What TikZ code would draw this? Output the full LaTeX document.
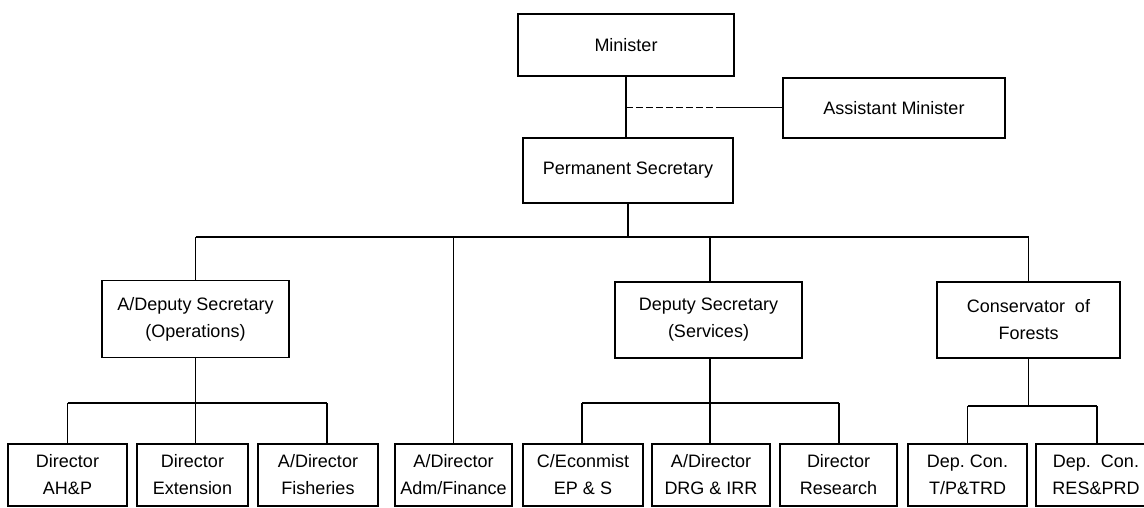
\documentclass[tikz,border=0pt]{standalone}
\usepackage{fontspec}
\setmainfont{Liberation Sans}
\begin{document}
\begin{tikzpicture}[x=1pt, y=-1pt,
  box/.style={draw, line width=1.2pt, align=center, inner sep=0pt,
    font=\fontsize{18}{27}\selectfont},
  link/.style={line width=1.2pt},
  aside/.style={line width=1pt, dash pattern=on 7pt off 3pt}]
  \useasboundingbox (0,0) rectangle (1144,508);
  \clip (0,0) rectangle (1144,508);

  % top of the hierarchy
  \node[box, minimum width=216, minimum height=62] (min)  at (626,45)    {Minister};
  \node[box, minimum width=222, minimum height=60] (asst) at (894,108)   {Assistant Minister};
  \node[box, minimum width=210, minimum height=65] (ps)   at (628,170.5) {Permanent Secretary};

  % second level
  \node[box, minimum width=187, minimum height=77] (adep) at (195.5,319) {A/Deputy Secretary\\(Operations)};
  \node[box, minimum width=187, minimum height=76] (dsec) at (708.5,320) {Deputy Secretary\\(Services)};
  \node[box, minimum width=183, minimum height=76] (cons) at (1028.5,320) {Conservator\ \ of\\Forests};

  % directorates
  \tikzset{unit/.style={box, minimum height=62}}
  \node[unit, minimum width=119] (d1) at (67.5,475)  {Director\\AH\&P};
  \node[unit, minimum width=111] (d2) at (192.5,475) {Director\\Extension};
  \node[unit, minimum width=120] (d3) at (318,475)   {A/Director\\Fisheries};
  \node[unit, minimum width=117] (d4) at (453.5,475) {A/Director\\Adm/Finance};
  \node[unit, minimum width=120] (d5) at (583,475)   {C/Econmist\\EP \& S};
  \node[unit, minimum width=118] (d6) at (711,475)   {A/Director\\DRG \& IRR};
  \node[unit, minimum width=117] (d7) at (838.5,475) {Director\\Research};
  \node[unit, minimum width=119] (d8) at (967.5,475) {Dep.\ Con.\\T/P\&TRD};
  \node[unit, minimum width=120] (d9) at (1096,475)  {Dep.\ \ Con.\\RES\&PRD};

  % bus levels
  \coordinate (busA) at (0,237);
  \coordinate (busB) at (0,403);
  \coordinate (busC) at (0,406);
  \coordinate (asideSplit) at (718,108);

  % minister to permanent secretary, with the assistant minister aside
  \draw[link] (min.south) -- (min.south |- ps.north);
  \draw[aside] (min.south |- asst.west) -- (asideSplit);
  \draw[line width=1pt] (asideSplit) -- (asst.west);

  % permanent secretary to second level
  \draw[link] (ps.south) -- (ps.south |- busA);
  \draw[link] (adep.north |- busA) -- (cons.north |- busA);
  \draw[link] (adep.north |- busA) -- (adep.north);
  \draw[link] (d4.north |- busA) -- (d4.north);
  \draw[link] (710,282) -- (710,237);
  \draw[link] (cons.north |- busA) -- (cons.north);

  % operations
  \draw[link] (adep.south) -- (adep.south |- d2.north);
  \draw[link] (d1.north |- busB) -- (327,403);
  \draw[link] (d1.north |- busB) -- (d1.north);
  \draw[link] (327,403) -- (327,444);

  % services
  \draw[link] (710,358) -- (710,444);
  \draw[link] (582,403) -- (839,403);
  \draw[link] (582,403) -- (582,444);
  \draw[link] (839,403) -- (839,444);

  % forests
  \draw[link] (cons.south) -- (cons.south |- busC);
  \draw[link] (d8.north |- busC) -- (1097,406);
  \draw[link] (d8.north |- busC) -- (d8.north);
  \draw[link] (1097,406) -- (1097,444);
\end{tikzpicture}
\end{document}
